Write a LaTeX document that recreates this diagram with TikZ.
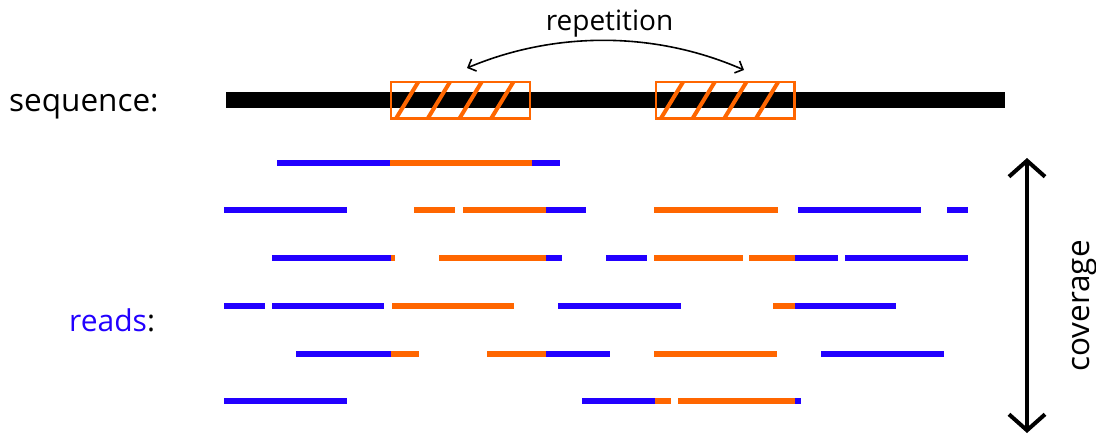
\documentclass[tikz,border=0pt]{standalone}
\usepackage{fontspec}
\setmainfont{Open Sans}
\usetikzlibrary{arrows.meta}
\definecolor{readblue}{RGB}{34,0,255}
\definecolor{repor}{RGB}{255,102,0}
\begin{document}
\begin{tikzpicture}[x=1pt,y=-1pt,
  lbl/.style={font=\fontsize{31.5}{37}\selectfont, inner sep=0pt},
  readlbl/.style={font=\fontsize{30}{36}\selectfont, inner sep=0pt},
  replbl/.style={font=\fontsize{28}{33}\selectfont, inner sep=0pt},
  seqbar/.style={fill=black, inner sep=0pt, minimum width=779pt, minimum height=16pt},
  repbox/.style={draw=repor, line width=1.8pt, inner sep=0pt, minimum width=138pt, minimum height=36pt},
  hatchline/.style={draw=repor, line width=4pt},
  readline/.style={line width=5.5pt},
  reparrow/.style={line width=1.6pt, {Straight Barb[length=6.5pt,width=13pt]}-{Straight Barb[length=6.5pt,width=13pt]}},
  covarrow/.style={line width=4pt, {Straight Barb[length=16pt,width=36pt]}-{Straight Barb[length=16pt,width=36pt]}}
]
\useasboundingbox (0,0) rectangle (1096,434);

% labels
\node[lbl, anchor=base west] (seqlbl) at (9,111.5) {sequence:};
\node[readlbl, anchor=base west] (readslbl) at (69,331) {\textcolor{readblue}{reads}:};
\node[replbl, anchor=base] (replbl) at (609.5,30) {repetition};

% sequence
\node[seqbar] (seq) at (615.5,100) {};

% repeats
\node[repbox] (rep1) at (460.5,100.3) {};
\node[repbox] (rep2) at (725.3,100.3) {};
\foreach \r in {rep1,rep2}{
  \begin{scope}
    \clip (\r.south west) rectangle (\r.north east);
    \foreach \i in {0,...,3}
      \draw[hatchline] ([xshift={5+31.7*\i}]\r.south west) -- ([xshift={28+31.7*\i}]\r.north west);
  \end{scope}
  \draw[repor, line width=1.8pt] (\r.south west) rectangle (\r.north east);
}

% repetition arrow
\coordinate (arrL) at (467,68);
\coordinate (arrR) at (744,70);
\draw[reparrow] (arrL) .. controls (555,31) and (655,31) .. (arrR);

% reads
\foreach \y/\segs in {
  163/{277/390/readblue,390/532/repor,532/560/readblue},
  210/{224/347/readblue,414/455/repor,463/546/repor,546/586/readblue,654/778/repor,798/921/readblue,947/968/readblue},
  258/{272/391/readblue,391/395/repor,439/546/repor,546/562/readblue,606/647/readblue,654/743/repor,749/795/repor,795/838/readblue,845/968/readblue},
  306/{224/265/readblue,272/384/readblue,392/514/repor,558/681/readblue,773/795/repor,795/896/readblue},
  354/{296/391/readblue,391/419/repor,487/546/repor,546/610/readblue,654/777/repor,821/944/readblue},
  401/{224/347/readblue,582/655/readblue,655/671/repor,678/795/repor,795/801/readblue}}{
  \foreach \a/\b/\c in \segs
    \draw[readline, color=\c] (\a,\y) -- (\b,\y);
}

% coverage
\coordinate (covT) at (1027,158);
\coordinate (covB) at (1027,433);
\draw[covarrow] (covT) -- (covB);
\node[lbl, rotate=90, anchor=base] (covlbl) at (1089,306) {coverage};
\end{tikzpicture}
\end{document}
